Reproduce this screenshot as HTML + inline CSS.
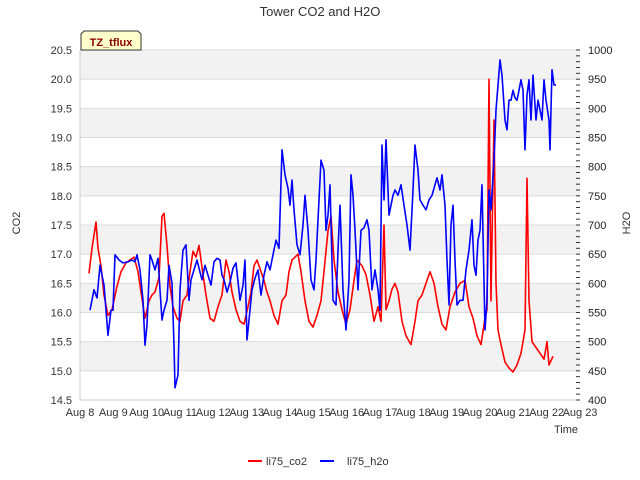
<!DOCTYPE html>
<html><head><meta charset="utf-8"><style>
body{margin:0;background:#fff;}
svg{display:block;font-family:"Liberation Sans",sans-serif;}
</style></head><body>
<svg id="chart" width="640" height="480"></svg>
<script>
const co2Days=[.27,.36,.48,.54,.63,.72,.84,.96,1.11,1.23,1.38,1.5,1.62,1.74,1.83,1.95,2.07,2.16,2.25,2.37,2.46,2.52,2.61,2.7,2.79,2.91,3.0,3.09,3.21,3.3,3.39,3.48,3.57,3.69,3.78,3.9,4.02,4.14,4.26,4.38,4.47,4.56,4.68,4.8,4.92,5.04,5.13,5.22,5.31,5.43,5.52,5.61,5.7,5.82,5.94,6.06,6.18,6.27,6.36,6.45,6.54,6.63,6.75,6.87,6.99,7.11,7.23,7.32,7.44,7.53,7.62,7.74,7.86,7.98,8.1,8.22,8.31,8.46,8.58,8.7,8.82,8.94,9.03,9.12,9.18,9.27,9.36,9.45,9.54,9.66,9.78,9.93,10.05,10.14,10.26,10.38,10.5,10.62,10.74,10.86,10.98,11.1,11.25,11.4,11.55,11.67,11.79,11.91,12.03,12.15,12.21,12.27,12.33,12.42,12.48,12.54,12.63,12.75,12.87,12.99,13.11,13.23,13.35,13.41,13.47,13.56,13.68,13.8,13.92,14.01,14.07,14.19];
const co2Values=[16.67,17.1,17.55,17.1,16.8,16.3,15.95,16.05,16.45,16.7,16.85,16.9,16.95,16.7,16.35,15.9,16.2,16.3,16.35,16.6,17.65,17.7,17.15,16.45,16.1,15.9,15.85,16.2,16.3,16.7,17.05,16.95,17.15,16.65,16.3,15.9,15.85,16.1,16.3,16.9,16.7,16.35,16.05,15.85,15.8,16.1,16.35,16.8,16.9,16.7,16.55,16.35,16.2,15.95,15.8,16.2,16.3,16.7,16.9,16.95,17.0,16.7,16.2,15.85,15.75,15.95,16.2,16.7,17.4,17.65,16.9,16.35,16.05,15.8,16.05,16.55,16.9,16.8,16.65,16.3,15.85,16.1,15.85,17.5,16.05,16.2,16.4,16.5,16.35,15.85,15.6,15.45,15.85,16.2,16.3,16.5,16.7,16.5,16.1,15.8,15.7,16.1,16.35,16.5,16.55,16.1,15.9,15.6,15.45,15.9,16.05,20.0,16.2,19.3,16.5,15.7,15.45,15.15,15.05,14.98,15.1,15.3,15.7,18.3,16.2,15.5,15.4,15.3,15.2,15.5,15.1,15.25];
const h2oDays=[.3,.42,.51,.6,.72,.84,.93,.99,1.05,1.17,1.29,1.44,1.56,1.65,1.71,1.8,1.89,1.95,2.01,2.1,2.16,2.25,2.34,2.4,2.46,2.52,2.61,2.67,2.76,2.82,2.85,2.94,3.0,3.09,3.18,3.27,3.33,3.42,3.51,3.57,3.66,3.75,3.84,3.93,4.02,4.11,4.2,4.26,4.32,4.41,4.5,4.59,4.68,4.8,4.89,4.95,5.01,5.07,5.16,5.25,5.34,5.43,5.52,5.61,5.7,5.79,5.88,5.97,6.06,6.15,6.24,6.3,6.36,6.42,6.51,6.6,6.69,6.75,6.84,6.93,7.02,7.08,7.17,7.23,7.32,7.38,7.44,7.5,7.59,7.68,7.74,7.8,7.89,7.98,8.07,8.13,8.19,8.25,8.34,8.43,8.52,8.61,8.67,8.76,8.85,8.94,9.0,9.06,9.12,9.18,9.27,9.33,9.39,9.45,9.54,9.63,9.72,9.81,9.9,9.99,10.05,10.14,10.2,10.29,10.38,10.47,10.56,10.65,10.71,10.8,10.86,10.95,11.01,11.07,11.13,11.19,11.25,11.31,11.4,11.49,11.58,11.67,11.76,11.82,11.88,11.94,12.0,12.06,12.15,12.21,12.27,12.33,12.42,12.48,12.54,12.6,12.66,12.75,12.81,12.87,12.93,12.99,13.05,13.11,13.17,13.23,13.29,13.35,13.41,13.47,13.53,13.59,13.68,13.74,13.8,13.86,13.92,13.98,14.07,14.1,14.16,14.22,14.28];
const h2oValues=[554,589,575,631,597,511,554,554,649,640,635,637,640,637,649,623,571,494,529,649,640,623,643,589,537,554,571,631,600,494,421,443,589,657,666,571,606,623,640,626,606,631,614,597,637,643,640,614,606,585,602,626,635,571,597,640,503,537,589,609,623,580,614,637,623,649,674,660,829,786,763,734,777,726,666,649,700,751,691,606,589,640,743,811,794,691,717,769,571,563,657,734,589,520,606,786,751,691,589,691,695,709,691,589,623,589,554,837,743,846,717,734,751,760,751,769,734,700,657,760,837,794,743,734,726,743,751,769,781,760,786,734,640,563,700,734,640,563,571,571,623,657,709,631,614,674,691,769,520,571,760,726,811,897,940,983,957,880,863,914,914,931,918,914,931,949,931,829,923,949,880,957,880,914,897,880,949,914,880,829,966,940,940];
const dateLabels=["Aug 8","Aug 9","Aug 10","Aug 11","Aug 12","Aug 13","Aug 14","Aug 15","Aug 16","Aug 17","Aug 18","Aug 19","Aug 20","Aug 21","Aug 22","Aug 23"];
const co2Ticks=[14.5,15.0,15.5,16.0,16.5,17.0,17.5,18.0,18.5,19.0,19.5,20.0,20.5];
const h2oTicks=[400,450,500,550,600,650,700,750,800,850,900,950,1000];

const NS="http://www.w3.org/2000/svg";
const svg=document.getElementById('chart');
const L=80,R=580,T=50,B=400;
const xS=d=>L+(d/15)*(R-L);
const yL=v=>B-(v-14.5)/6*(B-T);
const yR=v=>B-(v-400)/600*(B-T);
function mk(tag,attrs,parent){const e=document.createElementNS(NS,tag);for(const k in attrs)e.setAttribute(k,attrs[k]);(parent||svg).appendChild(e);return e;}

// bands
for(let i=0;i<co2Ticks.length-1;i++){
  if(i%2===1){continue;}
  const top=co2Ticks[co2Ticks.length-1-i], bot=co2Ticks[co2Ticks.length-2-i];
  const r=mk('rect',{x:L,y:yL(top),width:R-L,height:yL(bot)-yL(top),fill:'#f2f2f2'});
  
  
}
co2Ticks.forEach(v=>{
  const g=mk('line',{x1:L,x2:R,y1:yL(v),y2:yL(v),stroke:'#dcdcdc','stroke-width':1});
  
  
  const t=mk('text',{x:L-8,y:yL(v)+4,'text-anchor':'end','font-size':11,fill:'#333'});
  t.textContent=v.toFixed(1);
  
  
});
mk('line',{x1:L,x2:L,y1:T,y2:B,stroke:'#ccc'});
mk('line',{x1:L,x2:R,y1:B,y2:B,stroke:'#ccc'});
h2oTicks.forEach(v=>{
  const t=mk('text',{x:R+8,y:yR(v)+4,'font-size':11,fill:'#222'});
  t.textContent=v;
  
  
});
for(let v=400;v<=1000;v+=10){
  mk('line',{x1:R-4,x2:R,y1:yR(v),y2:yR(v),stroke:'#333','stroke-width':1});
}
dateLabels.forEach((s,i)=>{
  const t=mk('text',{x:xS(i),y:416,'text-anchor':'middle','font-size':11,fill:'#333'});
  t.textContent=s;
  
  
});
function line(days,vals,ys,color,name){
  const pts=days.map((d,i)=>xS(d).toFixed(1)+','+ys(vals[i]).toFixed(1)).join(' ');
  const p=mk('polyline',{points:pts,fill:'none',stroke:color,'stroke-width':1.6,'stroke-linejoin':'round'});
  
  
}
line(co2Days,co2Values,yL,'#ff0000','li75-co2-line');
line(h2oDays,h2oValues,yR,'#0000ff','li75-h2o-line');
</script>
<svg style="position:absolute;left:0;top:0" width="640" height="480">
<text x="320" y="16" text-anchor="middle" font-size="13" fill="#333">Tower CO2 and H2O</text>
<text x="20" y="223" text-anchor="middle" font-size="11" fill="#333" transform="rotate(-90 20 223)">CO2</text>
<text x="630" y="223" text-anchor="middle" font-size="11" fill="#333" transform="rotate(-90 630 223)">H2O</text>
<text x="566" y="433" text-anchor="middle" font-size="11" fill="#333">Time</text>
<polygon points="84,31 138,31 141,34 141,50 81,50 81,34" fill="#ffffcc" stroke="#333" stroke-width="1"/>
<text x="111" y="46" text-anchor="middle" font-size="11" font-weight="bold" fill="#8b0000">TZ_tflux</text>
<line x1="248" x2="262" y1="461" y2="461" stroke="#ff0000" stroke-width="2"/>
<text x="266" y="465" font-size="11" fill="#333">li75_co2</text>
<line x1="320" x2="334" y1="461" y2="461" stroke="#0000ff" stroke-width="2"/>
<text x="347" y="465" font-size="11" fill="#333">li75_h2o</text>
</svg>
</body></html>
